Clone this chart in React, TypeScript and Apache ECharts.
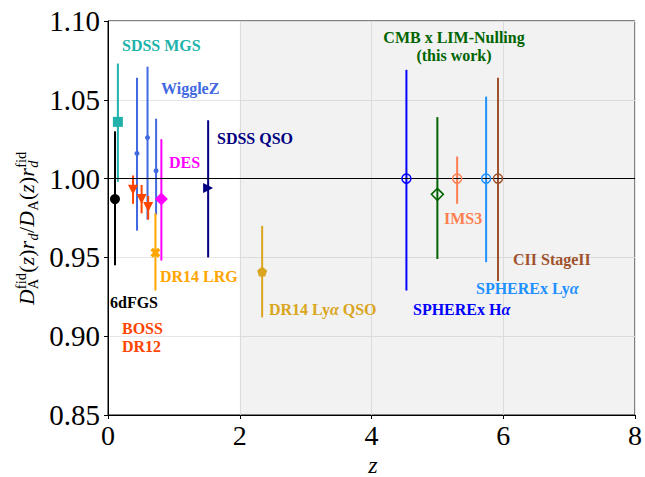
import React, { useEffect, useRef } from "react";
import * as echarts from "echarts";

// ---- data ----
const surveyOfPoint = [
  "6dFGS", "SDSS MGS", "WiggleZ", "WiggleZ", "WiggleZ",
  "BOSS DR12", "BOSS DR12", "BOSS DR12", "DES", "DR14 LRG",
  "SDSS QSO", "DR14 Lya QSO", "SPHEREx Ha", "CMB x LIM-Nulling",
  "IMS3", "SPHEREx Lya", "CII StageII",
];
const redshift = [0.106, 0.15, 0.44, 0.6, 0.73, 0.38, 0.51, 0.61, 0.81, 0.72, 1.52, 2.34, 4.53, 5.0, 5.3, 5.74, 5.92];
const ratio = [0.987, 1.036, 1.016, 1.026, 1.005, 0.993, 0.987, 0.982, 0.987, 0.953, 0.994, 0.941, 1.0, 0.99, 1.0, 1.0, 1.0];
const ratioLow = [0.945, 0.998, 0.967, 0.974, 0.977, 0.984, 0.978, 0.974, 0.948, 0.929, 0.95, 0.912, 0.929, 0.949, 0.984, 0.947, 0.935];
const ratioHigh = [1.03, 1.073, 1.064, 1.071, 1.038, 1.002, 0.996, 0.989, 1.025, 0.978, 1.037, 0.97, 1.069, 1.039, 1.014, 1.052, 1.064];
const xTicks = [0, 2, 4, 6, 8];
const yTicks = [0.85, 0.9, 0.95, 1.0, 1.05, 1.1];
const shadedRange = [2, 8];
const referenceLevel = 1.0;

// ---- styles ----
const FAMILY = "Liberation Serif";
const DOWN_TRI = "path://M0,0 L10,0 L5,10 Z";
const RIGHT_TRI = "path://M0,0 L10,5 L0,10 Z";
const PENTAGON = "path://M5,0 L9.76,3.45 L7.94,9.05 L2.06,9.05 L0.24,3.45 Z";
const FILLED_X = "path://M0,2.5 L2.5,0 L5,2.5 L7.5,0 L10,2.5 L7.5,5 L10,7.5 L7.5,10 L5,7.5 L2.5,10 L0,7.5 L2.5,5 Z";

const surveyStyle: Record<string, any> = {
  "6dFGS": { color: "#000000", symbol: "circle", size: 10, filled: true },
  "SDSS MGS": { color: "#20B2AA", symbol: "rect", size: 10, filled: true },
  WiggleZ: { color: "#4169E1", symbol: "circle", size: 5, filled: true },
  "BOSS DR12": { color: "#FF4500", symbol: DOWN_TRI, size: 10, filled: true },
  DES: { color: "#FF00FF", symbol: "diamond", size: 13, filled: true },
  "DR14 LRG": { color: "#FFA500", symbol: FILLED_X, size: 10, filled: true },
  "SDSS QSO": { color: "#000080", symbol: RIGHT_TRI, size: 10, filled: true },
  "DR14 Lya QSO": { color: "#DAA520", symbol: PENTAGON, size: 10, filled: true },
  "SPHEREx Ha": { color: "#0000FF", symbol: "circle", size: 9, filled: false },
  "CMB x LIM-Nulling": { color: "#006400", symbol: "diamond", size: 12, filled: false },
  IMS3: { color: "#FF7F50", symbol: "circle", size: 9, filled: false },
  "SPHEREx Lya": { color: "#1E90FF", symbol: "circle", size: 9, filled: false },
  "CII StageII": { color: "#A0522D", symbol: "circle", size: 9, filled: false },
};

const labelSpecs = [
  { text: "SDSS MGS", color: "#20B2AA", x: 122, y: 45, align: "left" },
  { text: "WiggleZ", color: "#4169E1", x: 161, y: 88, align: "left" },
  { text: "SDSS QSO", color: "#000080", x: 217, y: 138, align: "left" },
  { text: "DES", color: "#FF00FF", x: 169, y: 162, align: "left" },
  { text: "DR14 LRG", color: "#FFA500", x: 160, y: 276, align: "left" },
  { text: "6dFGS", color: "#000000", x: 110, y: 302, align: "left" },
  { text: "BOSS", color: "#FF4500", x: 122, y: 328, align: "left" },
  { text: "DR12", color: "#FF4500", x: 122, y: 346, align: "left" },
  { text: "DR14 Ly{a|α} QSO", color: "#DAA520", x: 269, y: 309, align: "left" },
  { text: "CMB x LIM-Nulling", color: "#006400", x: 454, y: 37, align: "center" },
  { text: "(this work)", color: "#006400", x: 454, y: 55, align: "center" },
  { text: "IMS3", color: "#FF7F50", x: 444, y: 218, align: "left" },
  { text: "CII StageII", color: "#A0522D", x: 513, y: 259, align: "left" },
  { text: "SPHEREx Ly{a|α}", color: "#1E90FF", x: 476, y: 288, align: "left" },
  { text: "SPHEREx H{a|α}", color: "#0000FF", x: 413, y: 309, align: "left" },
];

function measure(text: string, font: string) {
  const c = document.createElement("canvas").getContext("2d");
  if (!c) return text.length * 10;
  c.font = font;
  return c.measureText(text).width;
}

function yAxisTitle() {
  const M = 21.5;
  const S = 14.5;
  const mainY = -0.3375 * M;
  const supY = -0.4 * M - 0.3375 * S;
  const subY = 0.2 * M - 0.3375 * S;
  type Piece = { t: string; it: boolean; size: number; y: number };
  const seq: (Piece | Piece[])[] = [
    { t: "D", it: true, size: M, y: mainY },
    [
      { t: "fid", it: false, size: S, y: supY },
      { t: "A", it: false, size: S, y: subY },
    ],
    { t: "(", it: false, size: M, y: mainY },
    { t: "z", it: true, size: M, y: mainY },
    { t: ")", it: false, size: M, y: mainY },
    { t: "r", it: true, size: M, y: mainY },
    { t: "d", it: true, size: S, y: subY },
    { t: "/", it: false, size: M, y: mainY },
    { t: "D", it: true, size: M, y: mainY },
    { t: "A", it: false, size: S, y: subY },
    { t: "(", it: false, size: M, y: mainY },
    { t: "z", it: true, size: M, y: mainY },
    { t: ")", it: false, size: M, y: mainY },
    { t: "r", it: true, size: M, y: mainY },
    [
      { t: "fid", it: false, size: S, y: supY },
      { t: "d", it: true, size: S, y: subY },
    ],
  ];
  const children: any[] = [];
  let x = 0;
  for (const item of seq) {
    const arr = Array.isArray(item) ? item : [item];
    let w = 0;
    for (const p of arr) {
      const font = `${p.it ? "italic " : ""}${p.size}px ${FAMILY}`;
      const pw = measure(p.t, font);
      w = Math.max(w, pw);
      children.push({
        type: "text",
        x,
        y: p.y,
        style: {
          text: p.t,
          fontFamily: FAMILY,
          fontSize: p.size,
          fontStyle: p.it ? "italic" : "normal",
          fill: "#000",
          align: "left",
          verticalAlign: "middle",
        },
      });
    }
    x += w + 0.3;
  }
  return { type: "group", x: 34, y: 305, rotation: Math.PI / 2, children };
}

export default function App() {
  const ref = useRef<HTMLDivElement>(null);

  useEffect(() => {
    document.body.style.margin = "0";
    if (!ref.current) return;
    const chart = echarts.init(ref.current, undefined, { renderer: "svg" });

    const surveys = Array.from(new Set(surveyOfPoint));

    const errorSeries = surveys.map((s) => {
      const st = surveyStyle[s];
      const data = surveyOfPoint
        .map((sv, i) => (sv === s ? [redshift[i], ratioLow[i], ratioHigh[i]] : null))
        .filter((d) => d !== null);
      return {
        type: "custom",
        name: s + " err",
        z: 3,
        silent: true,
        data,
        encode: { x: 0, y: [1, 2] },
        renderItem: (_params: any, api: any) => {
          const p1 = api.coord([api.value(0), api.value(1)]);
          const p2 = api.coord([api.value(0), api.value(2)]);
          return {
            type: "line",
            shape: { x1: p1[0], y1: p1[1], x2: p2[0], y2: p2[1] },
            style: { stroke: st.color, lineWidth: 2 },
          };
        },
      };
    });

    const markerSeries = surveys.map((s) => {
      const st = surveyStyle[s];
      const data = surveyOfPoint
        .map((sv, i) => (sv === s ? [redshift[i], ratio[i]] : null))
        .filter((d) => d !== null);
      return {
        type: "scatter",
        name: s,
        z: 5,
        silent: true,
        symbol: st.symbol,
        symbolSize: st.size,
        data,
        itemStyle: st.filled
          ? { color: st.color, opacity: 1 }
          : { color: "rgba(0,0,0,0)", borderColor: st.color, borderWidth: 1.5, opacity: 1 },
      };
    });

    const guideSeries = {
      type: "line",
      name: "guides",
      data: [],
      z: 1,
      silent: true,
      markArea: {
        silent: true,
        itemStyle: { color: "rgba(128,128,128,0.1)" },
        data: [[{ xAxis: shadedRange[0] }, { xAxis: shadedRange[1] }]],
      },
      markLine: {
        silent: true,
        symbol: ["none", "none"],
        label: { show: false },
        lineStyle: { color: "#000", width: 1, type: "solid" },
        data: [{ yAxis: referenceLevel }],
        z: 4,
      },
    };

    const graphics: any[] = labelSpecs.map((l) => ({
      type: "text",
      x: l.x,
      y: l.y,
      z: 10,
      style: {
        text: l.text,
        fill: l.color,
        fontFamily: FAMILY,
        fontWeight: "bold",
        fontSize: 16,
        align: l.align,
        verticalAlign: "middle",
        rich: {
          a: { fontStyle: "italic", fontWeight: "bold", fontSize: 16, fontFamily: FAMILY, fill: l.color },
        },
      },
    }));
    graphics.push(yAxisTitle());
    graphics.push({
      type: "text",
      x: 373,
      y: 465,
      style: {
        text: "z",
        fontFamily: FAMILY,
        fontStyle: "italic",
        fontSize: 24,
        fill: "#000",
        align: "center",
        verticalAlign: "middle",
      },
    });

    chart.setOption({
      animation: false,
      backgroundColor: "#ffffff",
      grid: {
        left: 108,
        right: 7,
        top: 21,
        bottom: 62,
        show: true,
        borderColor: "#000",
        borderWidth: 1,
        backgroundColor: "transparent",
      },
      xAxis: {
        type: "value",
        min: xTicks[0],
        max: xTicks[xTicks.length - 1],
        interval: xTicks[1] - xTicks[0],
        axisLine: { show: true, onZero: false, lineStyle: { color: "#000", width: 1 } },
        axisTick: { show: true, length: 4, lineStyle: { color: "#000" } },
        axisLabel: { fontFamily: FAMILY, fontSize: 28, color: "#000", margin: 6 },
        splitLine: { show: true, lineStyle: { color: "#e6e6e6", width: 1 } },
      },
      yAxis: {
        type: "value",
        min: yTicks[0],
        max: yTicks[yTicks.length - 1],
        interval: 0.05,
        axisLine: { show: true, onZero: false, lineStyle: { color: "#000", width: 1 } },
        axisTick: { show: true, length: 4, lineStyle: { color: "#000" } },
        axisLabel: {
          fontFamily: FAMILY,
          fontSize: 29,
          color: "#000",
          margin: 8,
          formatter: (v: number) => v.toFixed(2),
        },
        splitLine: { show: true, lineStyle: { color: "#e6e6e6", width: 1 } },
      },
      graphic: graphics,
      series: [guideSeries, ...errorSeries, ...markerSeries],
    });

    return () => chart.dispose();
  }, []);

  return <div ref={ref} style={{ width: 645, height: 477 }} />;
}
